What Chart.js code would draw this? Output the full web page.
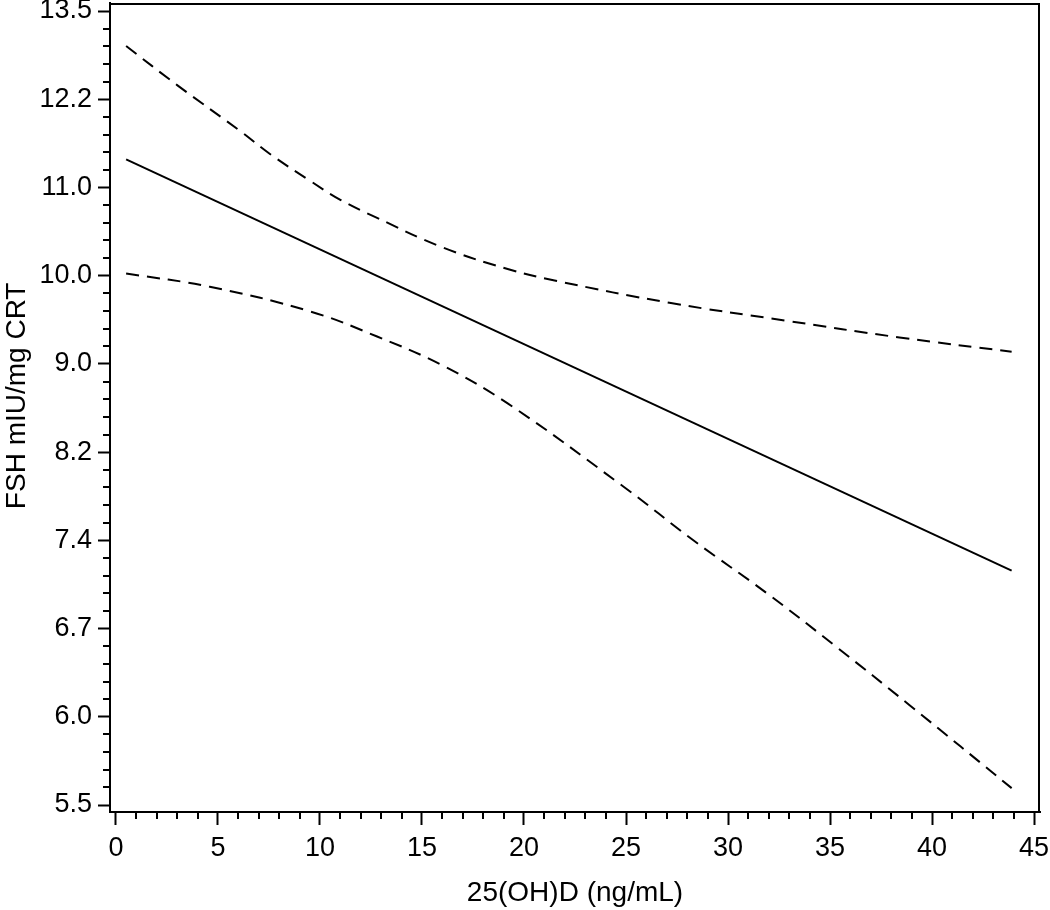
<!DOCTYPE html>
<html>
<head>
<meta charset="utf-8">
<script src="https://cdn.jsdelivr.net/npm/chart.js@4"></script>
<style>
  body { margin: 0; background: #fff; }
  canvas { display: block; }
</style>
</head>
<body>
<canvas id="myChart" width="1050" height="910"></canvas>
<script>
// valores (x = 25(OH)D, y = FSH)
var fitX = [0.5, 43.9];
var fitY = [11.38, 7.14];

var upperX = [0.5, 3.0, 6.2, 7.55, 9.5, 11.0, 12.8, 16.0, 19.2, 21.5, 27.2, 32.8, 38.4, 43.9];
var upperY = [12.94, 12.38, 11.73, 11.45, 11.11, 10.87, 10.65, 10.30, 10.05, 9.92, 9.67, 9.48, 9.30, 9.15];

var lowerX = [0.5, 4.6, 9.5, 12.8, 16.0, 19.2, 24.9, 28.3, 31.9, 35.3, 38.9, 43.9];
var lowerY = [10.00, 9.85, 9.58, 9.31, 9.01, 8.63, 7.85, 7.39, 6.96, 6.55, 6.13, 5.58];

// eixo y em escala log, marcas em exp(1.7 ... 2.6)
var yTickValues = [5.474, 6.050, 6.686, 7.389, 8.166, 9.025, 9.974, 11.023, 12.182, 13.464];
var yTickLabels = ['5.5', '6.0', '6.7', '7.4', '8.2', '9.0', '10.0', '11.0', '12.2', '13.5'];
var xTickValues = [0, 5, 10, 15, 20, 25, 30, 35, 40, 45];

function pts(xs, ys) {
  return xs.map(function (x, i) { return { x: x, y: ys[i] }; });
}

var fontFamily = '"Liberation Sans", Arial, Helvetica, sans-serif';

// moldura (topo e direita) + marcas menores
var framePlugin = {
  id: 'frame',
  afterDraw: function (chart) {
    var c = chart.ctx, a = chart.chartArea;
    var xs = chart.scales.x, ys = chart.scales.y;
    c.save();
    c.strokeStyle = '#000';
    c.lineWidth = 2;
    c.beginPath();
    c.moveTo(a.left, a.top + 1);
    c.lineTo(a.right - 1, a.top + 1);
    c.lineTo(a.right - 1, a.bottom);
    c.stroke();

    c.beginPath();
    // y minor ticks: 4 entre cada par de marcas (espaçamento log)
    for (var i = 0; i < yTickValues.length - 1; i++) {
      var l0 = Math.log(yTickValues[i]), l1 = Math.log(yTickValues[i + 1]);
      for (var k = 1; k < 5; k++) {
        var py = Math.round(ys.getPixelForValue(Math.exp(l0 + (l1 - l0) * k / 5)));
        c.moveTo(a.left, py);
        c.lineTo(a.left - 7, py);
      }
    }
    // x minor ticks: a cada unidade
    for (var v = 0; v <= 45; v++) {
      if (v % 5 === 0) continue;
      var px = Math.round(xs.getPixelForValue(v));
      c.moveTo(px, a.bottom);
      c.lineTo(px, a.bottom + 7);
    }
    c.stroke();
    c.restore();
  }
};

var ctx = document.getElementById('myChart').getContext('2d');

var chart = new Chart(ctx, {
  type: 'line',
  data: {
    datasets: [{
      label: 'Upper',
      data: pts(upperX, upperY),
      borderColor: '#000',
      borderWidth: 2,
      borderDash: [13, 8],
      tension: 0.4,
      pointRadius: 0,
      fill: false
    }, {
      label: 'Fit',
      data: pts(fitX, fitY),
      borderColor: '#000',
      borderWidth: 2,
      pointRadius: 0,
      fill: false
    }, {
      label: 'Lower',
      data: pts(lowerX, lowerY),
      borderColor: '#000',
      borderWidth: 2,
      borderDash: [13, 8],
      tension: 0.4,
      pointRadius: 0,
      fill: false
    }]
  },
  options: {
    responsive: false,
    animation: false,
    layout: { padding: { top: 3, right: 10, left: 0, bottom: 0 } },
    plugins: {
      legend: { display: false },
      tooltip: { enabled: false }
    },
    scales: {
      x: {
        type: 'linear',
        min: -0.29,
        max: 45.29,
        afterBuildTicks: function (scale) {
          scale.ticks = xTickValues.map(function (v) { return { value: v }; });
        },
        afterFit: function (scale) {
          scale.height = 98;
          scale.paddingLeft = 0;
          scale.paddingRight = 0;
        },
        border: { color: '#000', width: 2 },
        grid: {
          drawOnChartArea: false,
          color: '#000',
          tickColor: '#000',
          tickLength: 13,
          tickWidth: 2
        },
        ticks: {
          color: '#000',
          padding: 7,
          maxRotation: 0,
          autoSkip: false,
          font: { family: fontFamily, size: 27 }
        },
        title: {
          display: true,
          text: '25(OH)D (ng/mL)',
          color: '#000',
          padding: 0,
          font: { family: fontFamily, size: 28 }
        }
      },
      y: {
        type: 'logarithmic',
        min: 5.431,
        max: 13.587,
        afterBuildTicks: function (scale) {
          scale.ticks = yTickValues.map(function (v) { return { value: v }; });
        },
        afterFit: function (scale) {
          scale.width = 110;
          scale.paddingTop = 0;
          scale.paddingBottom = 0;
        },
        border: { color: '#000', width: 2 },
        grid: {
          drawOnChartArea: false,
          color: '#000',
          tickColor: '#000',
          tickLength: 12,
          tickWidth: 2
        },
        ticks: {
          color: '#000',
          padding: 6,
          autoSkip: false,
          font: { family: fontFamily, size: 27 },
          callback: function (value, index) { return yTickLabels[index]; }
        },
        title: {
          display: true,
          text: '   FSH mIU/mg CRT',
          color: '#000',
          padding: 0,
          font: { family: fontFamily, size: 28 }
        }
      }
    }
  },
  plugins: [framePlugin]
});
</script>
</body>
</html>
